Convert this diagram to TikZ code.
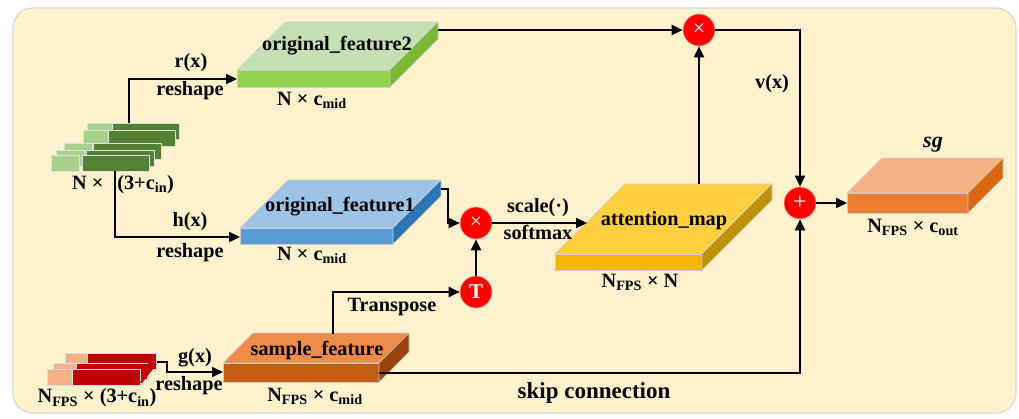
\documentclass[tikz,border=0pt]{standalone}
\usepackage{fontspec}
\setmainfont{Liberation Serif}
\usetikzlibrary{arrows.meta}
\definecolor{bgfill}{HTML}{FFF2CC}
\definecolor{bgline}{HTML}{D6D6D6}
\definecolor{gtop}{HTML}{C5E0B4}
\definecolor{gfront}{HTML}{92D050}
\definecolor{gside}{HTML}{7AB833}
\definecolor{btop}{HTML}{9DC3E6}
\definecolor{bfront}{HTML}{5B9BD5}
\definecolor{bside}{HTML}{2E75B6}
\definecolor{otop}{HTML}{EE8A4A}
\definecolor{ofront}{HTML}{C55A11}
\definecolor{oside}{HTML}{9A4510}
\definecolor{ytop}{HTML}{FFCF40}
\definecolor{yfront}{HTML}{F2B600}
\definecolor{yside}{HTML}{BF9000}
\definecolor{stop}{HTML}{F4B183}
\definecolor{sfront}{HTML}{ED7D31}
\definecolor{sside}{HTML}{D86613}
\definecolor{lgreen}{HTML}{A9D18E}
\definecolor{dgreen}{HTML}{548235}
\definecolor{lred}{HTML}{F4B183}
\definecolor{dred}{HTML}{C00000}
\definecolor{opred}{HTML}{FF0000}
\tikzset{
  conn/.style={line width=2.2pt, -{Triangle[length=11pt,width=10pt]}},
  lbl/.style={font=\fontsize{20.3}{23}\selectfont\bfseries, inner sep=0pt},
  op/.style={circle, fill=opred, draw=opred!35!white, line width=0.6pt, minimum size=32pt, inner sep=0pt, text=white},
  slabedge/.style={draw=gray!40, line width=0.6pt, line join=round},
  layeredge/.style={draw=white!75!gray, line width=0.5pt},
}
\newcommand\slab[8]{%
  \filldraw[slabedge, fill=#6] (#1,#2) -- ++(#5,-#5) -- ++(#3,0) -- ++(-#5,#5) -- cycle;
  \filldraw[slabedge, fill=#7] (#1,#2) rectangle ++(#3,#4);
  \filldraw[slabedge, fill=#8] (#1,#2) ++(#3,0) -- ++(#5,-#5) -- ++(0,#4) -- ++(-#5,#5) -- cycle;
}
\begin{document}
\begin{tikzpicture}[x=1pt,y=-1pt]
\useasboundingbox (0,0) rectangle (1019,418);
\filldraw[fill=bgfill, draw=bgline, line width=1.2pt, rounded corners=20pt] (13,8) rectangle (1016,413);

% green input stack
\foreach \a/\b/\c/\d/\e in {87/123/112/112/179, 83/130/108/108/175, 64/143/92/93/161, 56/150/84/86/154, 51/155/79/82/149}{
  \filldraw[layeredge, fill=lgreen] (\a,\b) rectangle (\c,\b+16);
  \filldraw[layeredge, fill=dgreen] (\d,\b) rectangle (\e,\b+16);
}
% red input stack
\foreach \a/\b/\c/\d/\e in {65/353/87/87/156, 53/363/76/76/147, 47/369/72/72/140}{
  \filldraw[layeredge, fill=lred] (\a,\b) rectangle (\c,\b+16);
  \filldraw[layeredge, fill=dred] (\d,\b) rectangle (\e,\b+16);
}
\fill[dred] (147,364) -- (157,364) -- (142,383) -- (140,383) -- cycle;

% slabs
\slab{237}{70}{153}{17}{48}{gtop}{gfront}{gside}
\slab{240}{228}{153}{16}{48}{btop}{bfront}{bside}
\slab{223}{363}{156}{19}{30}{otop}{ofront}{oside}
\slab{555}{254}{147}{16}{70}{ytop}{yfront}{yside}
\slab{847}{193}{121}{20}{35}{stop}{sfront}{sside}

\node[lbl] (of2) at (337,46) {original\_feature2};
\node[lbl] (of1) at (340,207) {original\_feature1};
\node[lbl] (sf) at (317,351) {sample\_feature};
\node[lbl] (am) at (664,221) {attention\_map};
\node[lbl, font=\fontsize{22}{24}\selectfont\bfseries\itshape] (sgname) at (933,145) {sg};

\node[lbl] (of2dim) at (312,100) {N × c\textsubscript{mid}};
\node[lbl] (of1dim) at (312,255) {N × c\textsubscript{mid}};
\node[lbl] (sfdim) at (315,396) {N\textsubscript{FPS} × c\textsubscript{mid}};
\node[lbl] (amdim) at (640,282) {N\textsubscript{FPS} × N};
\node[lbl] (sgdim) at (913,227) {N\textsubscript{FPS} × c\textsubscript{out}};
\node[lbl] (gsdim) at (123,185) {N ×\hspace{14pt}(3+c\textsubscript{in})};
\node[lbl] (rsdim) at (97,398) {N\textsubscript{FPS} × (3+c\textsubscript{in})};

% operators
\node[op] (mtop) at (699,30) {\fontsize{22}{22}\selectfont ×};
\node[op] (madd) at (800,203) {\fontsize{24}{24}\selectfont +};
\node[op] (mmid) at (476,223) {\fontsize{22}{22}\selectfont ×};
\node[op] (mT) at (476,292) {\fontsize{21}{21}\selectfont\bfseries T};

% ports
\coordinate (of2-in) at (237,79);
\coordinate (of2-out) at (438,30);
\coordinate (of1-in) at (240,237);
\coordinate (of1-out) at (441,189);
\coordinate (sf-in) at (223,372);
\coordinate (sf-out) at (379,373);
\coordinate (sf-top) at (333,334);
\coordinate (am-in) at (587,223);
\coordinate (am-top) at (699,184);
\coordinate (sg-in) at (847,203);
\coordinate (gs-top) at (129,123);
\coordinate (gs-bot) at (115,171);
\coordinate (rs-out) at (157,362);

% connectors
\draw[conn] (gs-top) |- (of2-in);
\draw[conn] (gs-bot) |- (of1-in);
\draw[conn] (rs-out) -- ++(10,0) |- (sf-in);
\draw[conn] (of2-out) -- (mtop);
\draw[conn] (mtop) -| (madd);
\draw[conn] (am-top) -- (mtop);
\draw[conn] (madd) -- (sg-in);
\draw[conn] (sf-out) -| (madd);
\draw[conn] (sf-top) |- (mT);
\draw[conn] (mT) -- (mmid);
\draw[conn] (of1-out) -- ++(7,0) |- (mmid);
\draw[conn] (mmid) -- (am-in);

% connector labels
\node[lbl] (lr) at (191,63) {r(x)};
\node[lbl] (lr2) at (190,91) {reshape};
\node[lbl] (lh) at (190,222) {h(x)};
\node[lbl] (lh2) at (190,253) {reshape};
\node[lbl] (lg) at (195,358) {g(x)};
\node[lbl] (lg2) at (189,386) {reshape};
\node[lbl] (lt) at (392,307) {Transpose};
\node[lbl] (ls) at (538,208) {scale(·)};
\node[lbl] (ls2) at (538,232) {softmax};
\node[lbl] (lv) at (772,84) {v(x)};
\node[lbl, font=\fontsize{23}{26}\selectfont\bfseries] (lskip) at (594,393) {skip connection};
\end{tikzpicture}
\end{document}
